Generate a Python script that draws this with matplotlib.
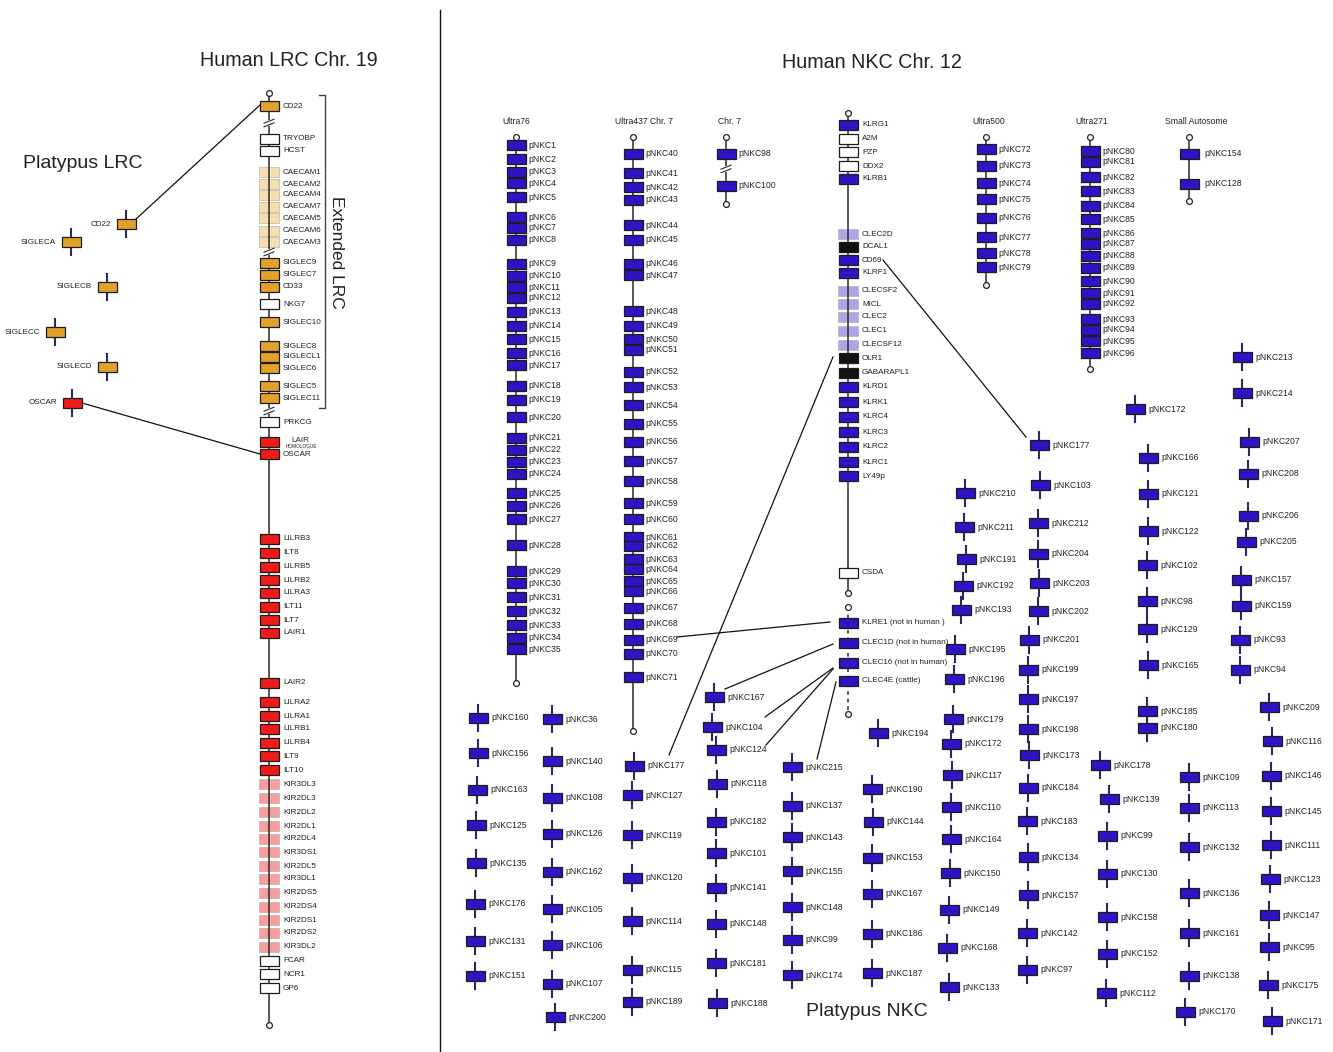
import matplotlib
matplotlib.use("Agg")
import matplotlib.pyplot as plt
from matplotlib.patches import Rectangle

plt.rcParams['font.family'] = ['Liberation Sans', 'DejaVu Sans']

# ---------------------------------------------------------------- data
# Human LRC, chromosome 19 (gene, locus position, gene class)
LRC_GENES = ["CD22", "TRYOBP", "HCST", "CAECAM1", "CAECAM2", "CAECAM4", "CAECAM7",
             "CAECAM5", "CAECAM6", "CAECAM3", "SIGLEC9", "SIGLEC7", "CD33", "NKG7",
             "SIGLEC10", "SIGLEC8", "SIGLECL1", "SIGLEC6", "SIGLEC5", "SIGLEC11",
             "PRKCG", "LAIR", "OSCAR", "LILRB3", "ILT8", "LILRB5", "LILRB2", "LILRA3",
             "ILT11", "ILT7", "LAIR1", "LAIR2", "LILRA2", "LILRA1", "LILRB1", "LILRB4",
             "ILT9", "ILT10", "KIR3DL3", "KIR2DL3", "KIR2DL2", "KIR2DL1", "KIR2DL4",
             "KIR3DS1", "KIR2DL5", "KIR3DL1", "KIR2DS5", "KIR2DS4", "KIR2DS1",
             "KIR2DS2", "KIR3DL2", "FCAR", "NCR1", "GP6"]
LRC_POS = [106, 139, 151, 172, 184, 195, 207, 218, 231, 242, 263, 275, 287, 304,
           322, 346, 357, 368, 386, 398, 422, 442, 454, 539, 553, 567, 580, 593,
           607, 620, 633, 683, 702, 716, 729, 743, 756, 770, 784, 798, 812, 826,
           839, 852, 866, 879, 893, 907, 920, 933, 947, 961, 974, 988]
LRC_CLASS = ["sig", "oth", "oth"] + ["cea"] * 7 + ["sig", "sig", "sig", "oth", "sig",
             "sig", "sig", "sig", "sig", "sig", "oth", "ir", "ir"] + ["ir"] * 15 + \
            ["kir"] * 13 + ["oth", "oth", "oth"]
LRC_SPAN = (93, 1025)
LRC_BREAKS = [123, 252, 411]

# Platypus LRC genes (gene, map position x, y)
PLAT_LRC_GENES = ["CD22", "SIGLECA", "SIGLECB", "SIGLECC", "SIGLECD", "OSCAR"]
PLAT_LRC_X = [126, 71, 107, 55, 107, 72]
PLAT_LRC_Y = [224, 242, 287, 332, 367, 403]
PLAT_LRC_CLASS = ["sig", "sig", "sig", "sig", "sig", "ir"]

# Human NKC, chromosome 12
NKC_GENES = ["KLRG1", "A2M", "PZP", "DDX2", "KLRB1", "CLEC2D", "DCAL1", "CD69", "KLRF1",
             "CLECSF2", "MICL", "CLEC2", "CLEC1", "CLECSF12", "OLR1", "GABARAPL1",
             "KLRD1", "KLRK1", "KLRC4", "KLRC3", "KLRC2", "KLRC1", "LY49p", "CSDA"]
NKC_POS = [125, 139, 152, 166, 179, 234, 247, 260, 273, 291, 304, 317, 331, 345,
           358, 373, 387, 402, 417, 432, 447, 462, 476, 573]
NKC_CLASS = ["nk", "oth", "oth", "oth", "nk", "clec", "blk", "nk", "nk", "clec", "clec",
             "clec", "clec", "clec", "blk", "blk", "nk", "nk", "nk", "nk", "nk", "nk",
             "nk", "oth"]
NKC_SPAN = (113, 593)
# Genes found outside human
NKC_EXTRA = ["KLRE1 (not in human )", "CLEC1D (not in human)",
             "CLEC16 (not in human)", "CLEC4E (cattle)"]
NKC_EXTRA_POS = [623, 643, 663, 681]
NKC_EXTRA_SPAN = (607, 714)

# Platypus NKC scaffolds
SCAFFOLDS = {
    "Ultra76": ([f"pNKC{i}" for i in range(1, 36)],
                [145, 159, 172, 183, 197, 217, 228, 240, 264, 276, 287, 298, 312,
                 326, 339, 353, 365, 386, 400, 417, 438, 450, 462, 474, 493, 506,
                 519, 545, 571, 583, 597, 611, 625, 638, 649], (137, 683), []),
    "Ultra437 Chr. 7": ([f"pNKC{i}" for i in range(40, 72)],
                        [154, 173, 187, 200, 225, 240, 264, 275, 311, 326, 339, 350,
                         372, 387, 405, 424, 442, 461, 481, 503, 519, 537, 546, 559,
                         569, 581, 591, 608, 624, 640, 654, 677], (137, 731), []),
    "Chr. 7": (["pNKC98", "pNKC100"], [154, 186], (137, 204), [169]),
    "Ultra500": ([f"pNKC{i}" for i in range(72, 80)],
                 [149, 166, 183, 199, 218, 237, 253, 267], (137, 285), []),
    "Ultra271": ([f"pNKC{i}" for i in range(80, 97)],
                 [151, 162, 177, 191, 206, 219, 233, 244, 256, 268, 281, 293, 304,
                  319, 330, 341, 353], (137, 369), []),
    "Small Autosome": (["pNKC154", "pNKC128"], [154, 184], (137, 201), []),
}
SCAFFOLD_X = {"Ultra76": 516, "Ultra437 Chr. 7": 633, "Chr. 7": 726,
              "Ultra500": 986, "Ultra271": 1090, "Small Autosome": 1189}

# Unplaced platypus NKC genes
LOOSE_GENES = [
    "pNKC160", "pNKC156", "pNKC163", "pNKC125", "pNKC135", "pNKC176", "pNKC131", "pNKC151",
    "pNKC36", "pNKC140", "pNKC108", "pNKC126", "pNKC162", "pNKC105", "pNKC106", "pNKC107", "pNKC200",
    "pNKC177", "pNKC127", "pNKC119", "pNKC120", "pNKC114", "pNKC115", "pNKC189",
    "pNKC167", "pNKC104", "pNKC124", "pNKC118", "pNKC182", "pNKC101", "pNKC141", "pNKC148", "pNKC181", "pNKC188",
    "pNKC215", "pNKC137", "pNKC143", "pNKC155", "pNKC148", "pNKC99", "pNKC174",
    "pNKC194", "pNKC190", "pNKC144", "pNKC153", "pNKC167", "pNKC186", "pNKC187",
    "pNKC210", "pNKC211", "pNKC191", "pNKC192", "pNKC193", "pNKC195", "pNKC196", "pNKC179",
    "pNKC172", "pNKC117", "pNKC110", "pNKC164", "pNKC150", "pNKC149", "pNKC168", "pNKC133",
    "pNKC177", "pNKC103", "pNKC212", "pNKC204", "pNKC203", "pNKC202", "pNKC201", "pNKC199",
    "pNKC197", "pNKC198", "pNKC173", "pNKC184", "pNKC183", "pNKC134", "pNKC157", "pNKC142", "pNKC97",
    "pNKC178", "pNKC139", "pNKC99", "pNKC130", "pNKC158", "pNKC152", "pNKC112",
    "pNKC172", "pNKC166", "pNKC121", "pNKC122", "pNKC102", "pNKC98", "pNKC129", "pNKC165", "pNKC185", "pNKC180",
    "pNKC109", "pNKC113", "pNKC132", "pNKC136", "pNKC161", "pNKC138", "pNKC170",
    "pNKC213", "pNKC214", "pNKC207", "pNKC208", "pNKC206", "pNKC205", "pNKC157", "pNKC159", "pNKC93", "pNKC94",
    "pNKC209", "pNKC116", "pNKC146", "pNKC145", "pNKC111", "pNKC123", "pNKC147", "pNKC95", "pNKC175", "pNKC171",
]
LOOSE_X = [
    478, 478, 477, 476, 476, 475, 475, 475,
    552, 552, 552, 552, 552, 552, 552, 552, 555,
    634, 632, 632, 632, 632, 632, 632,
    714, 712, 716, 717, 716, 716, 716, 716, 716, 717,
    792, 792, 792, 792, 792, 792, 792,
    878, 872, 873, 872, 872, 872, 872,
    965, 964, 966, 963, 961, 955, 954, 953,
    951, 952, 951, 951, 950, 949, 947, 949,
    1039, 1040, 1038, 1038, 1039, 1038, 1029, 1028,
    1028, 1028, 1029, 1028, 1027, 1028, 1028, 1027, 1027,
    1100, 1109, 1107, 1107, 1107, 1107, 1106,
    1135, 1148, 1148, 1148, 1147, 1147, 1147, 1148, 1147, 1147,
    1189, 1189, 1189, 1189, 1189, 1189, 1185,
    1242, 1242, 1249, 1248, 1248, 1246, 1241, 1241, 1240, 1240,
    1269, 1272, 1271, 1271, 1271, 1270, 1269, 1269, 1268, 1272,
]
LOOSE_Y = [
    718, 753, 790, 825, 863, 904, 941, 976,
    719, 761, 798, 834, 872, 909, 945, 984, 1017,
    766, 795, 835, 878, 921, 970, 1002,
    697, 727, 750, 784, 822, 853, 888, 924, 963, 1003,
    767, 806, 837, 871, 907, 940, 975,
    733, 789, 822, 858, 894, 934, 973,
    493, 527, 559, 586, 610, 649, 679, 719,
    744, 775, 807, 839, 873, 910, 948, 987,
    445, 485, 523, 554, 583, 611, 640, 670,
    699, 729, 755, 788, 821, 857, 895, 933, 970,
    765, 799, 836, 874, 917, 954, 993,
    409, 458, 494, 531, 565, 601, 629, 665, 711, 728,
    777, 808, 847, 893, 933, 976, 1012,
    357, 393, 442, 474, 516, 542, 580, 606, 640, 670,
    707, 741, 776, 811, 845, 879, 915, 947, 985, 1021,
]

# Orthology links: (source, target); a source/target is (group, gene, occurrence)
LINKS = [
    (("plat_lrc", "CD22", 0), ("lrc", "CD22", 0)),
    (("plat_lrc", "OSCAR", 0), ("lrc", "OSCAR", 0)),
    (("nkc", "CD69", 0), ("loose", "pNKC177", 1)),
    (("nkc", "OLR1", 0), ("loose", "pNKC177", 0)),
    (("nkc", "KLRE1 (not in human )", 0), ("Ultra437 Chr. 7", "pNKC69", 0)),
    (("nkc", "CLEC1D (not in human)", 0), ("loose", "pNKC167", 0)),
    (("nkc", "CLEC16 (not in human)", 0), ("loose", "pNKC104", 0)),
    (("nkc", "CLEC16 (not in human)", 0), ("loose", "pNKC124", 0)),
    (("nkc", "CLEC4E (cattle)", 0), ("loose", "pNKC215", 0)),
]
# Where each link leaves / meets its gene, relative to the gene box centre
LINK_ANCHORS = [
    ((10, -5), (-9, -1)),
    ((10, 0), (-9, 0)),
    ((35, 0), (-13, -8)),
    ((-15, -1), (35, -11)),
    ((-18, -1), (44, -3)),
    ((-15, 1), (11, -8)),
    ((-15, 5), (53, -10)),
    ((-15, 6), (50, -5)),
    ((-12, 1), (25, -8)),
]

# ---------------------------------------------------------------- styles
FILL = {"nk": "#2c15c3", "sig": "#e2a12a", "ir": "#ee1b1b", "kir": "#f4878a",
        "cea": "#f5d69a", "clec": "#988ee2", "blk": "#121212", "oth": "white"}
FAINT = {"kir", "cea", "clec"}
LINE = "#2a2a2a"
TICK = "#2a2a5e"
BOX_W, BOX_H = 19, 10

W, H = 1333, 1052
fig = plt.figure(figsize=(W / 100, H / 100), dpi=100)
ax = fig.add_axes([0, 0, 1, 1])
ax.set_xlim(0, W)
ax.set_ylim(H, 0)
ax.axis("off")

positions = {}


def box(x, y, cls, w=BOX_W, h=BOX_H):
    if cls in FAINT:
        ax.add_patch(Rectangle((x - w / 2 - 0.5, y - h / 2), w + 1, h,
                               facecolor=FILL[cls], edgecolor="#b0a8a0", lw=0.5,
                               alpha=0.8, zorder=2))
    else:
        ax.add_patch(Rectangle((x - w / 2, y - h / 2), w, h, facecolor=FILL[cls],
                               edgecolor="#1c1c1c", lw=0.9, zorder=4))


def end_circle(x, y):
    ax.plot([x], [y], marker="o", ms=4.2, mfc="white", mec="#222222", mew=0.9, zorder=5)


def break_mark(x, y):
    ax.add_patch(Rectangle((x - 3, y - 3), 6, 6, facecolor="white", edgecolor="none",
                           zorder=3.5))
    for d in (-1.8, 1.8):
        ax.plot([x - 5, x + 5], [y + 2 + d, y - 2 + d], color=LINE, lw=0.8, zorder=3.6)


def chromosome(group, x, span, names, ys, classes, label_dx, fs, breaks=(),
               dashed=False):
    ax.plot([x, x], span, color=LINE, lw=1.1, ls=(0, (2.5, 2.5)) if dashed else "-",
            zorder=3)
    end_circle(x, span[0])
    end_circle(x, span[1])
    for b in breaks:
        break_mark(x, b)
    for n, y, c in zip(names, ys, classes):
        box(x, y, c)
        positions.setdefault((group, n), []).append((x, y))
        if n == "LAIR":
            ax.text(x + 31, y - 2, "LAIR", fontsize=fs, ha="center", va="center",
                    color="#222222")
            ax.text(x + 32, y + 5, "HOMOLOGUE", fontsize=3.4, ha="center",
                    va="center", color="#222222")
        else:
            ax.text(x + label_dx, y, n, fontsize=fs, ha="left", va="center",
                    color="#222222")


def loose_gene(group, name, x, y, cls="nk", label_dx=13, fs=6.2, label_left=False):
    ax.plot([x, x], [y - 13, y + 13], color=TICK, lw=1.5, zorder=3)
    box(x, y, cls)
    positions.setdefault((group, name), []).append((x, y))
    if label_left:
        ax.text(x - label_dx, y, name, fontsize=fs, ha="right", va="center",
                color="#222222")
    else:
        ax.text(x + label_dx, y, name, fontsize=fs, ha="left", va="center",
                color="#222222")


# ---------------------------------------------------------------- LRC panel
chromosome("lrc", 269, LRC_SPAN, LRC_GENES, LRC_POS, LRC_CLASS, 14, 5.9,
           breaks=LRC_BREAKS)
for n, x, y, c in zip(PLAT_LRC_GENES, PLAT_LRC_X, PLAT_LRC_Y, PLAT_LRC_CLASS):
    loose_gene("plat_lrc", n, x, y, cls=c, label_dx=15, fs=5.9, label_left=True)

# bracket marking the extended LRC
ax.plot([319, 325, 325, 319], [95, 95, 408, 408], color="#444444", lw=1.0)
ax.text(337, 252, "Extended LRC", fontsize=12.5, rotation=-90, ha="center",
        va="center", color="#222222")

ax.text(289, 61, "Human LRC Chr. 19", fontsize=14.2, ha="center", va="center",
        color="#222222")
ax.text(83, 163, "Platypus LRC", fontsize=14, ha="center", va="center",
        color="#222222")

ax.plot([440, 440], [10, H], color="#111111", lw=1.0)

# ---------------------------------------------------------------- NKC panel
chromosome("nkc", 848, NKC_SPAN, NKC_GENES, NKC_POS, NKC_CLASS, 14, 5.9)
chromosome("nkc", 848, NKC_EXTRA_SPAN, NKC_EXTRA, NKC_EXTRA_POS, ["nk"] * 4, 14, 5.9,
           dashed=True)

for title, (names, ys, span, brk) in SCAFFOLDS.items():
    x = SCAFFOLD_X[title]
    dx = 15 if title == "Small Autosome" else 12
    chromosome(title, x, span, names, ys, ["nk"] * len(names), dx, 6.2, breaks=brk)
    hx = {"Ultra437 Chr. 7": 644, "Chr. 7": 729, "Ultra500": 989,
          "Ultra271": 1092, "Small Autosome": 1196}.get(title, x)
    ax.text(hx, 122, title, fontsize=6.2, ha="center", va="center", color="#222222")

for n, x, y in zip(LOOSE_GENES, LOOSE_X, LOOSE_Y):
    loose_gene("loose", n, x, y)

ax.text(872, 63, "Human NKC Chr. 12", fontsize=14.2, ha="center", va="center",
        color="#222222")
ax.text(867, 1012, "Platypus NKC", fontsize=14, ha="center", va="center",
        color="#222222")

# ---------------------------------------------------------------- links
for (src, dst), (a0, a1) in zip(LINKS, LINK_ANCHORS):
    sx, sy = positions[(src[0], src[1])][src[2]]
    tx, ty = positions[(dst[0], dst[1])][dst[2]]
    ax.plot([sx + a0[0], tx + a1[0]], [sy + a0[1], ty + a1[1]], color="#111111",
            lw=0.9, zorder=6)

fig.savefig("out.png", dpi=100)
